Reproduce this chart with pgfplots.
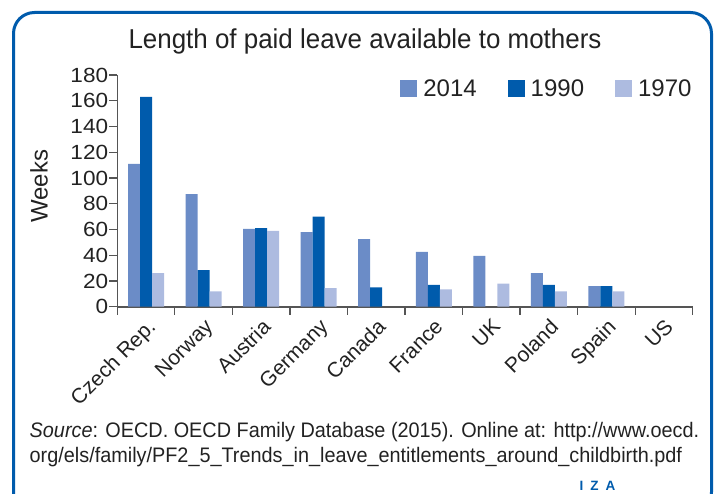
\documentclass[border=0pt]{standalone}
\usepackage{pgfplots}
\pgfplotsset{compat=1.18}
\usepackage{fontspec}
\setmainfont{Liberation Sans}
\newfontfamily\condfont[FakeStretch=0.945]{Liberation Sans}
\newfontfamily\titlefont[FakeStretch=0.95]{Liberation Sans}
\newfontfamily\widefont[FakeStretch=1.1]{Liberation Sans}
\definecolor{cA}{HTML}{6B8CC7}
\definecolor{cB}{HTML}{005BAC}
\definecolor{cC}{HTML}{ADBBE0}
\definecolor{txt}{HTML}{222222}
\definecolor{axisgray}{HTML}{555555}
\definecolor{izablue}{HTML}{005BAC}
\begin{document}
\begin{tikzpicture}[x=1pt,y=1pt]
\useasboundingbox (0,0) rectangle (719,493);
\draw[izablue, line width=3pt, rounded corners=21pt] (13.5,480.5) rectangle (711.5,-20);
\node[anchor=base, text=txt, font=\titlefont\fontsize{27.3}{30}\selectfont] at (365,444) {Length of paid leave available to mothers};
\node[anchor=base west, text=txt, inner sep=0pt, font=\condfont\fontsize{21}{25}\selectfont] at (29.5,56) {\textit{Source}: OECD. OECD Family Database (2015). Online at: http://www.oecd.};
\node[anchor=base west, text=txt, inner sep=0pt, font=\condfont\fontsize{21}{25}\selectfont] at (29.5,31) {org/els/family/PF2\_5\_Trends\_in\_leave\_entitlements\_around\_childbirth.pdf};
\node[anchor=base, text=izablue, inner sep=0pt, font=\bfseries\fontsize{13.5}{15}\selectfont] at (597.5,3) {I\hspace{7pt}Z\hspace{7pt}A};
\begin{axis}[
  at={(117.3pt,186.3pt)}, anchor=south west,
  scale only axis, width=575.4pt, height=231.7pt,
  xmin=-0.5, xmax=9.5, ymin=0, ymax=180,
  axis lines=left, axis line style={axisgray, line width=1.6pt, -},
  ybar=0pt, bar width=12pt,
  xtick={0,...,9},
  xticklabels={Czech Rep.,Norway,Austria,Germany,Canada,France,UK,Poland,Spain,US},
  minor xtick={-0.5,0.5,...,9.5},
  ytick={0,20,...,180},
  tick align=outside,
  major tick length=8pt, minor tick length=8pt,
  x tick style={draw=none},
  minor x tick style={draw=axisgray, line width=1.3pt},
  y tick style={axisgray, line width=1.3pt},
  tick label style={text=txt, font=\fontsize{21}{24}\selectfont},
  /pgf/number format/assume math mode=true,
  yticklabel style={inner sep=1pt, font=\widefont\fontsize{20.5}{24}\selectfont},
  xticklabel style={rotate=45, anchor=north east, inner sep=2pt},
  ylabel={Weeks},
  ylabel style={at={(rel axis cs:-0.136,0.52)}, rotate=0, anchor=center, text=txt, font=\fontsize{24}{28}\selectfont},
  legend columns=3,
  legend style={at={(rel axis cs:1.0,0.985)}, anchor=north east, draw=none, fill=none, inner sep=0pt,
    font=\fontsize{24}{28}\selectfont, text=txt,
    nodes={inner sep=1pt},
    column sep=5pt,
    /tikz/every even column/.append style={column sep=30pt}},
  legend image code/.code={\fill[#1,draw=none] (0pt,-8.5pt) rectangle (17pt,8.5pt);},
]
\addplot[fill=cA, draw=none] coordinates {(0,111) (1,87.5) (2,60.5) (3,58) (4,52.5) (5,42.5) (6,39.5) (7,26) (8,16)};
\addplot[fill=cB, draw=none] coordinates {(0,163) (1,28.5) (2,61) (3,70) (4,15) (5,17) (7,17) (8,16)};
\addplot[fill=cC, draw=none] coordinates {(0,26) (1,12) (2,59) (3,14.5) (5,13.5) (6,18) (7,12) (8,12)};
\legend{2014,1990,1970}
\end{axis}
\end{tikzpicture}
\end{document}
